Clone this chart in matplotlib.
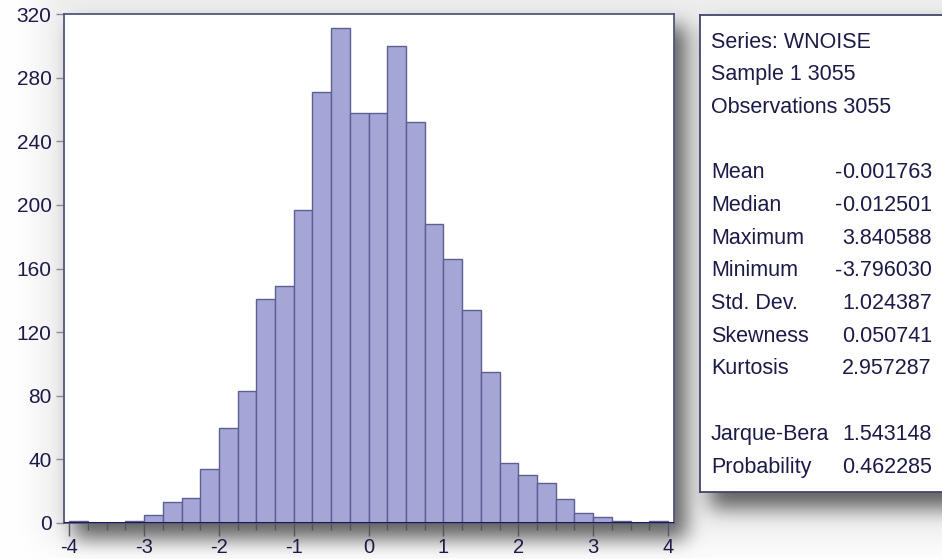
import numpy as np
import matplotlib
matplotlib.use("Agg")
import matplotlib.pyplot as plt

# histogram of WNOISE, bins of width 0.25 between -4 and 4
bin_lefts = np.arange(-4.0, 4.0, 0.25)
counts = [1, 0, 0, 1, 5, 13, 16, 34, 60, 83, 141, 149, 197, 271, 311, 258,
          258, 300, 252, 188, 166, 134, 95, 38, 30, 25, 15, 6, 4, 1, 0, 1]

yticks = [0, 40, 80, 120, 160, 200, 240, 280, 320]
xticks = [-4, -3, -2, -1, 0, 1, 2, 3, 4]

stat_head = ["Series: WNOISE", "Sample 1 3055", "Observations 3055"]
stat_names = ["Mean", "Median", "Maximum", "Minimum", "Std. Dev.",
              "Skewness", "Kurtosis"]
stat_vals = ["-0.001763", "-0.012501", "3.840588", "-3.796030", "1.024387",
             "0.050741", "2.957287"]
test_names = ["Jarque-Bera", "Probability"]
test_vals = ["1.543148", "0.462285"]

W, H = 942, 559
txt = "#1b1b48"
bar_fc = "#a4a6d6"
bar_ec = "#5d5f92"
plt.rcParams['font.family'] = ['Liberation Sans', 'DejaVu Sans']
plt.rcParams['axes.unicode_minus'] = False

fig = plt.figure(figsize=(W / 100, H / 100), dpi=100)

# background with soft drop shadows
def box_blur(a, r):
    for axis in (0, 1):
        a = np.swapaxes(a, 0, axis)
        c = np.cumsum(np.pad(a, ((r + 1, r), (0, 0)), mode='edge'), axis=0)
        a = (c[2 * r + 1:] - c[:-2 * r - 1]) / (2 * r + 1)
        a = np.swapaxes(a, 0, axis)
    return a

mask = np.zeros((H, W))
mask[14 + 12:523 + 16, 64 + 10:674 + 12] = 1.0
mask[15 + 12:492 + 16, 700 + 10:W] = 1.0
halo = np.zeros((H, W))
halo[0:540, 40:W] = 1.0
for _ in range(3):
    mask = box_blur(mask, 9)
    halo = box_blur(halo, 14)
shade = 1.0 - 0.55 * mask - 0.07 * halo
bg = fig.add_axes([0, 0, 1, 1])
bg.imshow(np.dstack([shade, shade, shade]), aspect='auto',
          extent=(0, W, H, 0), interpolation='bilinear')
bg.set_axis_off()

# histogram panel
ax = fig.add_axes([64 / W, 1 - 523 / H, (674 - 64) / W, (523 - 14) / H])
ax.bar(bin_lefts, counts, width=0.25, align='edge', color=bar_fc,
       edgecolor=bar_ec, linewidth=1.0, zorder=2)
ax.axhline(0, color="#1c1c55", lw=2.2, zorder=3)
ax.set_xlim(-4.07, 4.08)
ax.set_ylim(0, 320)
ax.set_facecolor('white')
ax.set_yticks(yticks)
ax.set_xticks(xticks)
ax.set_xticks(np.arange(-4, 4.01, 0.25), minor=True)
ax.tick_params(axis='y', direction='out', length=6, width=1, color="#8a8a9a",
               labelsize=15, labelcolor=txt, pad=3)
ax.tick_params(axis='x', which='major', direction='out', length=9, width=1,
               color="#555566", labelsize=14.5, labelcolor=txt, pad=1.5)
ax.tick_params(axis='x', which='minor', direction='out', length=5, width=1,
               color="#555566")
for s in ax.spines.values():
    s.set_color("#55557a")
    s.set_linewidth(1.3)

# statistics box
box = fig.add_axes([700 / W, 1 - 492 / H, 260 / W, (492 - 15) / H])
box.set_xlim(700, 960)
box.set_ylim(492, 15)
box.set_facecolor('white')
box.set_xticks([])
box.set_yticks([])
for s in box.spines.values():
    s.set_color("#44446a")
    s.set_linewidth(1.3)

fs = 15.5
step = 32.7
y0 = 42

def put_value(y, v):
    if v.startswith('-'):
        box.text(842, y, '-', fontsize=fs, color=txt, va='center', ha='right')
        v = v[1:]
    box.text(842, y, v, fontsize=fs, color=txt, va='center')

for i, t in enumerate(stat_head):
    box.text(711, y0 + step * i, t, fontsize=fs, color=txt, va='center')
for i, (n, v) in enumerate(zip(stat_names, stat_vals)):
    y = y0 + step * (4 + i)
    box.text(711, y, n, fontsize=fs, color=txt, va='center')
    put_value(y, v)
for i, (n, v) in enumerate(zip(test_names, test_vals)):
    y = y0 + step * (12 + i)
    box.text(711, y, n, fontsize=fs, color=txt, va='center')
    put_value(y, v)

fig.savefig("out.png", dpi=100)
